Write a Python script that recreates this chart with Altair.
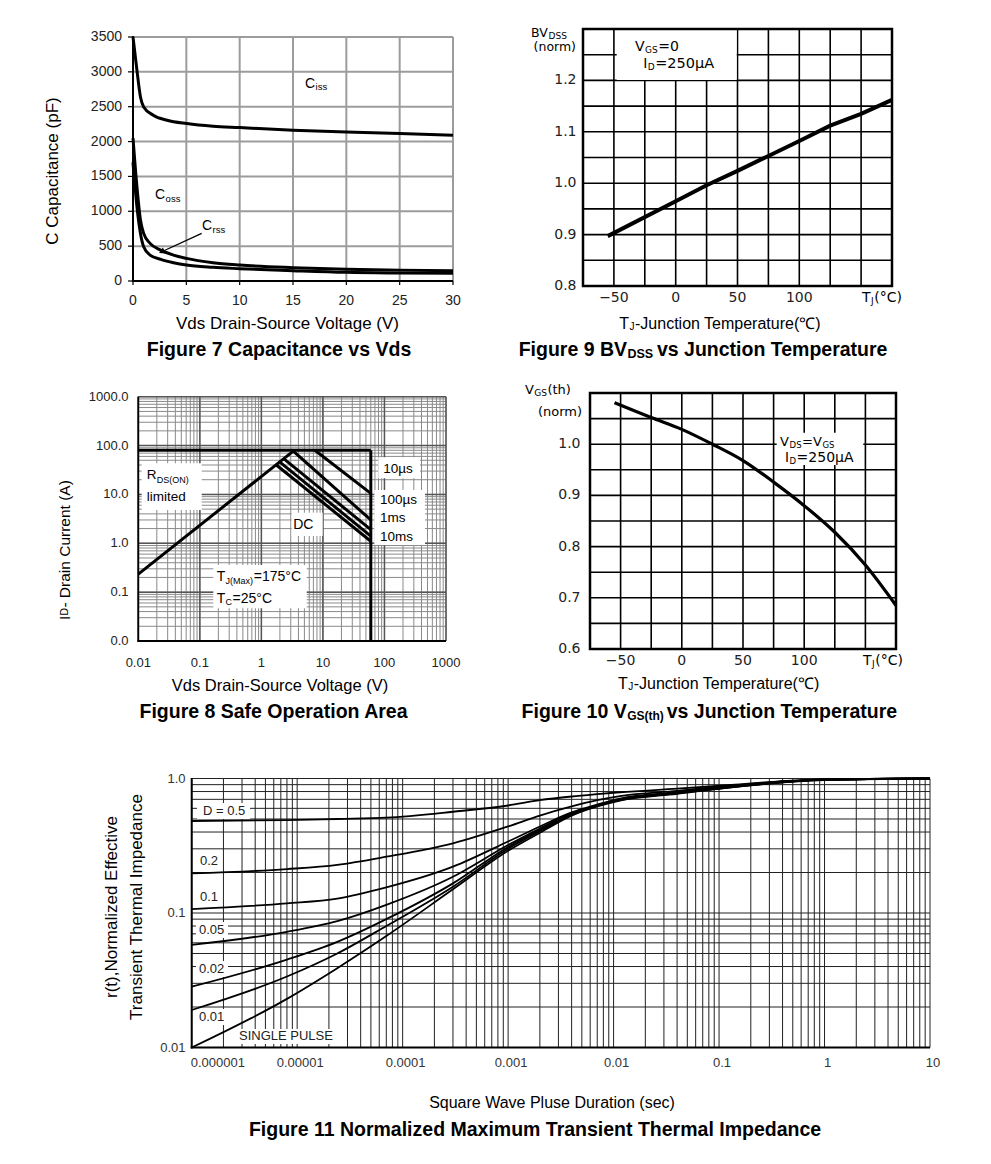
import altair as alt
import pandas as pd

# ====================== DATA ======================
# Figure 7 : Capacitance vs Vds
F7_VDS_ISS = [0, 0.37, 0.7, 1.0, 1.9, 3.2, 5.05, 7.5, 10, 15, 20, 25, 30]
F7_CISS = [3500, 3022, 2640, 2497, 2378, 2306, 2258, 2220, 2201, 2163, 2139, 2115, 2091]
F7_VDS = [0, 0.37, 0.7, 1.0, 1.6, 2.6, 3.8, 5, 7.5, 10, 15, 20, 25, 30]
F7_COSS = [2050, 1351, 874, 683, 540, 444, 372, 325, 263, 229, 191, 167, 156, 148]
F7_CRSS = [1700, 1065, 683, 492, 372, 310, 263, 229, 196, 177, 148, 124, 115, 110]
F7_ARROW_X = [6.44, 2.69]
F7_ARROW_Y = [684, 420]
F7_XTICKS = [0, 5, 10, 15, 20, 25, 30]
F7_YTICKS = [0, 500, 1000, 1500, 2000, 2500, 3000, 3500]

# Figure 9 : BVdss vs Tj
F9_T = [-55, 0, 25, 50, 75, 100, 125, 150, 175]
F9_BV = [0.897, 0.965, 0.996, 1.024, 1.053, 1.082, 1.112, 1.135, 1.162]
F9_GRID_X = [-50, -25, 0, 25, 50, 75, 100, 125, 150]
F9_GRID_Y = [0.85, 0.9, 0.95, 1.0, 1.05, 1.1, 1.15, 1.2, 1.25]
F9_XLAB = [-50, 0, 50, 100]
F9_XTXT = ["\u221250", "0", "50", "100"]
F9_YLAB = [0.8, 0.9, 1.0, 1.1, 1.2]
F9_YTXT = ["0.8", "0.9", "1.0", "1.1", "1.2"]

# Figure 8 : Safe operating area (start / end of each straight segment)
F8_SERIES = ["limit_I", "limit_V", "rds_on", "10us", "100us", "1ms", "10ms", "DC"]
F8_V0 = [0.01, 60, 0.01, 7.4, 3.3, 2.3, 2.0, 1.75]
F8_I0 = [80, 80, 0.233, 80, 77, 54, 46, 40]
F8_V1 = [60, 60, 3.3, 60, 60, 60, 60, 60]
F8_I1 = [80, 0.01, 77, 10.5, 3.0, 1.9, 1.4, 1.1]
F8_DEC = [0.01, 0.1, 1, 10, 100, 1000]
F8_XTXT = ["0.01", "0.1", "1", "10", "100", "1000"]
F8_YTXT = ["0.0", "0.1", "1.0", "10.0", "100.0", "1000.0"]

# Figure 10 : Vgs(th) vs Tj
F10_T = [-55, -25, 0, 25, 50, 75, 100, 125, 150, 175]
F10_V = [1.081, 1.052, 1.029, 1.0, 0.968, 0.926, 0.880, 0.828, 0.764, 0.685]
F10_GRID_Y = [0.65, 0.7, 0.75, 0.8, 0.85, 0.9, 0.95, 1.0, 1.05]
F10_YLAB = [0.6, 0.7, 0.8, 0.9, 1.0]
F10_YTXT = ["0.6", "0.7", "0.8", "0.9", "1.0"]

# Figure 11 : Normalized transient thermal impedance
F11_T = [1e-6, 8e-6, 2.4e-5, 7e-5, 3e-4, 1e-3, 2e-3, 4e-3, 7e-3, 1.15e-2, 0.04, 0.13, 0.44, 1.0, 10.0]
F11_D050 = [0.483, 0.49, 0.50, 0.511, 0.566, 0.63, 0.69, 0.735, 0.765, 0.79, 0.84, 0.895, 0.96, 0.985, 1.0]
F11_D020 = [0.197, 0.212, 0.228, 0.262, 0.33, 0.44, 0.53, 0.62, 0.69, 0.74, 0.81, 0.885, 0.955, 0.985, 1.0]
F11_D010 = [0.107, 0.118, 0.128, 0.155, 0.221, 0.34, 0.44, 0.56, 0.64, 0.71, 0.79, 0.875, 0.95, 0.98, 1.0]
F11_D005 = [0.058, 0.0725, 0.087, 0.115, 0.186, 0.32, 0.425, 0.55, 0.635, 0.70, 0.785, 0.87, 0.95, 0.98, 1.0]
F11_D002 = [0.0283, 0.045, 0.061, 0.090, 0.166, 0.31, 0.415, 0.54, 0.63, 0.695, 0.78, 0.865, 0.945, 0.98, 1.0]
F11_D001 = [0.019, 0.0337, 0.050, 0.080, 0.157, 0.30, 0.405, 0.535, 0.625, 0.69, 0.775, 0.86, 0.945, 0.98, 1.0]
F11_SGL = [0.010, 0.0230, 0.0389, 0.0674, 0.150, 0.29, 0.395, 0.53, 0.62, 0.685, 0.77, 0.86, 0.94, 0.975, 1.0]
F11_XDEC = [1e-6, 1e-5, 1e-4, 1e-3, 1e-2, 0.1, 1, 10]
F11_XTXT = ["0.000001", "0.00001", "0.0001", "0.001", "0.01", "0.1", "1", "10"]
F11_YDEC = [0.01, 0.1, 1]
F11_YTXT = ["0.01", "0.1", "1.0"]
F11_LABELS = ["D = 0.5", "0.2", "0.1", "0.05", "0.02", "0.01", "SINGLE PULSE"]

# ====================== HELPERS ======================
OFF = 8
W, H = 975, 1148
SANS = "Liberation Sans, Arial, Helvetica, sans-serif"
DVS = "DejaVu Sans, Verdana, sans-serif"
ONE = pd.DataFrame({"k": [0]})


def P(v):
    return v - OFF


def lin(dom, a, b):
    return alt.Scale(type="linear", domain=dom, range=[P(a), P(b)], nice=False, zero=False)


def lg(dom, a, b):
    return alt.Scale(type="log", domain=dom, range=[P(a), P(b)], nice=False)


def minor_log(e0, e1):
    vals = []
    for e in range(e0, e1):
        for k in range(1, 10):
            vals.append(float(f"{k}e{e}"))
    vals.append(float(f"1e{e1}"))
    return vals


def T(x, y, s, size, font=SANS, align="left", baseline="middle", weight="normal",
      angle=None, color="black"):
    kw = dict(text=s, fontSize=size, font=font, align=align, baseline=baseline,
              fontWeight=weight, color=color)
    if angle is not None:
        kw["angle"] = angle
    return alt.Chart(ONE).mark_text(**kw).encode(x=alt.value(P(x)), y=alt.value(P(y)))


def seg(x0, y0, x1, y1, color="black", w=2):
    return alt.Chart(ONE).mark_rule(color=color, strokeWidth=w).encode(
        x=alt.value(P(x0)), y=alt.value(P(y0)), x2=alt.value(P(x1)), y2=alt.value(P(y1)))


def box(x0, y0, x1, y1):
    return alt.Chart(ONE).mark_rect(color="white").encode(
        x=alt.value(P(x0)), x2=alt.value(P(x1)), y=alt.value(P(y0)), y2=alt.value(P(y1)))


def frame(x0, y0, x1, y1, w=2.5):
    return alt.Chart(ONE).mark_rect(filled=False, color="black", strokeWidth=w).encode(
        x=alt.value(P(x0)), x2=alt.value(P(x1)), y=alt.value(P(y0)), y2=alt.value(P(y1)))


def vrules(vals, xs, y0, y1, color, w):
    return alt.Chart(pd.DataFrame({"v": vals})).mark_rule(color=color, strokeWidth=w).encode(
        x=alt.X("v:Q", scale=xs, axis=None), y=alt.value(P(y0)), y2=alt.value(P(y1)))


def hrules(vals, ys, x0, x1, color, w):
    return alt.Chart(pd.DataFrame({"v": vals})).mark_rule(color=color, strokeWidth=w).encode(
        y=alt.Y("v:Q", scale=ys, axis=None), x=alt.value(P(x0)), x2=alt.value(P(x1)))


def curves(df, xs, ys, w, interp="monotone"):
    return alt.Chart(df).mark_line(color="black", strokeWidth=w, interpolate=interp).encode(
        x=alt.X("x:Q", scale=xs, axis=None), y=alt.Y("y:Q", scale=ys, axis=None),
        detail="s:N", order="o:Q")


def xlab(vals, texts, xs, y, size, font=SANS, color="#222", align="center", dx=0):
    return alt.Chart(pd.DataFrame({"v": vals, "t": texts})).mark_text(
        fontSize=size, font=font, color=color, align=align, baseline="middle", dx=dx).encode(
        x=alt.X("v:Q", scale=xs, axis=None), y=alt.value(P(y)), text="t:N")


def ylab(vals, texts, ys, x, size, font=SANS, color="#222"):
    return alt.Chart(pd.DataFrame({"v": vals, "t": texts})).mark_text(
        fontSize=size, font=font, color=color, align="right", baseline="middle").encode(
        y=alt.Y("v:Q", scale=ys, axis=None), x=alt.value(P(x)), text="t:N")


def series_df(pairs):
    rows = []
    for name, xs, ys in pairs:
        for i, (a, b) in enumerate(zip(xs, ys)):
            rows.append({"s": name, "o": i, "x": a, "y": b})
    return pd.DataFrame(rows)


layers = []

# ====================== FIGURE 7 ======================
x7 = lin([0, 30], 133, 453)
y7 = lin([0, 3500], 281, 37)
G7 = "#9c9c9c"
df7 = series_df([("Ciss", F7_VDS_ISS, F7_CISS), ("Coss", F7_VDS, F7_COSS), ("Crss", F7_VDS, F7_CRSS)])
arrow = pd.DataFrame({"x": [F7_ARROW_X[0]], "y": [F7_ARROW_Y[0]], "x2": [F7_ARROW_X[1]], "y2": [F7_ARROW_Y[1]]})
layers += [
    vrules(F7_XTICKS[1:], x7, 37, 281, G7, 2),
    hrules(F7_YTICKS[1:], y7, 133, 453, G7, 2),
    vrules(F7_XTICKS, x7, 281, 285, "black", 1.2),
    hrules(F7_YTICKS, y7, 128, 133, "black", 1.2),
    curves(df7, x7, y7, 3),
    seg(133, 36, 133, 282, "black", 2),
    seg(132, 281, 453, 281, "black", 2),
    alt.Chart(arrow).mark_rule(color="black", strokeWidth=1.3).encode(
        x=alt.X("x:Q", scale=x7, axis=None), y=alt.Y("y:Q", scale=y7, axis=None),
        x2="x2:Q", y2="y2:Q"),
    alt.Chart(arrow).mark_point(shape="triangle-up", filled=True, color="black", size=45,
                                angle=245, opacity=1).encode(
        x=alt.X("x2:Q", scale=x7, axis=None), y=alt.Y("y2:Q", scale=y7, axis=None)),
    xlab(F7_XTICKS, [str(v) for v in F7_XTICKS], x7, 301, 14),
    ylab(F7_YTICKS, [str(v) for v in F7_YTICKS], y7, 122, 14),
    T(305, 83.5, "C", 14), T(315.6, 87, "iss", 9.5),
    T(155, 195, "C", 14), T(165.6, 198.5, "oss", 9.5),
    T(202, 226, "C", 14), T(212.6, 229.5, "rss", 9.5),
    T(287.5, 323.5, "Vds Drain-Source Voltage (V)", 17, align="center"),
    T(52.5, 171, "C Capacitance (pF)", 17, align="center", angle=270),
    T(279, 355.5, "Figure 7 Capacitance vs Vds", 19.5, align="center",
      baseline="alphabetic", weight="bold"),
]

# ====================== FIGURE 9 ======================
x9 = lin([-75, 175], 583, 892)
y9 = lin([0.8, 1.3], 286, 29)
df9 = series_df([("BV", F9_T, F9_BV)])
layers += [
    vrules(F9_GRID_X, x9, 29, 286, "black", 1.6),
    hrules(F9_GRID_Y, y9, 583, 892, "black", 1.6),
    box(616.7, 30, 736.7, 80),
    curves(df9, x9, y9, 4, "linear"),
    frame(583, 29, 892, 286),
    xlab(F9_XLAB, F9_XTXT, x9, 298, 14, font=DVS),
    ylab(F9_YLAB, F9_YTXT, y9, 576.5, 14, font=DVS),
    T(862, 298, "T", 14, font=DVS), T(870.9, 300.5, "J", 9, font=DVS), T(874.3, 298, "(\u00b0C)", 14, font=DVS),
    T(531, 33, "BV", 12.5, font=DVS), T(548.6, 35.5, "DSS", 9, font=DVS),
    T(576, 47, "(norm)", 12.5, font=DVS, align="right"),
    T(635, 47, "V", 14, font=DVS), T(645, 50, "GS", 9, font=DVS), T(658.2, 47, "=0", 14, font=DVS),
    T(643.3, 64, "I", 14, font=DVS), T(647.8, 67, "D", 9, font=DVS), T(655.2, 64, "=250\u03bcA", 14.5, font=DVS),
    T(619.3, 324, "T", 16), T(629.6, 327, "J", 10), T(635, 324, "-Junction Temperature(\u2103)", 16),
    T(627, 355.5, "Figure 9 BV", 19.5, align="right", baseline="alphabetic", weight="bold"),
    T(627.5, 357.5, "DSS", 12.5, baseline="alphabetic", weight="bold"),
    T(657, 355.5, "vs Junction Temperature", 19.5, baseline="alphabetic", weight="bold"),
]

# ====================== FIGURE 8 ======================
x8 = lg([0.01, 1000], 138.3, 446)
y8 = lg([0.01, 1000], 641, 396.7)
grid8 = minor_log(-2, 3)
dec8 = F8_DEC
df8 = series_df([(n, [a, b], [c, d]) for n, a, c, b, d in zip(F8_SERIES, F8_V0, F8_I0, F8_V1, F8_I1)])
layers += [
    vrules(grid8, x8, 396.7, 641, "#8a8a8a", 1),
    hrules(grid8, y8, 138.3, 446, "#8a8a8a", 1),
    vrules(dec8, x8, 396.7, 641, "#555555", 1.5),
    hrules(dec8, y8, 138.3, 446, "#555555", 1.5),
    box(141.7, 463.3, 201.7, 510),
    box(378.3, 457.3, 420, 478.3),
    box(374.3, 490, 425, 545),
    box(291.7, 512.7, 322.7, 536),
    box(213.3, 565, 306.7, 608.3),
    curves(df8, x8, y8, 3, "linear"),
    seg(138.3, 396.7, 138.3, 642, "black", 1.8),
    seg(137.5, 641, 446, 641, "black", 1.8),
    xlab(dec8, F8_XTXT, x8, 663, 13),
    ylab(dec8, F8_YTXT, y8, 128.5, 13),
    T(146.7, 475, "R", 13.5), T(156.8, 480, "DS(ON)", 9),
    T(146.7, 496.7, "limited", 13.5),
    T(383.3, 469.3, "10\u00b5s", 13.5),
    T(380, 500, "100\u00b5s", 13.5),
    T(380, 518.3, "1ms", 13.5),
    T(380, 537.3, "10ms", 13.5),
    T(303.3, 524.5, "DC", 14, align="center"),
    T(216.7, 577.3, "T", 14), T(225.6, 580.5, "J(Max)", 9), T(253.8, 577.3, "=175\u00b0C", 14),
    T(216.7, 599, "T", 14), T(225.6, 602, "C", 9), T(232.6, 599, "=25\u00b0C", 14),
    T(280, 686, "Vds Drain-Source Voltage (V)", 16.5, align="center"),
    T(65, 620, "I", 15.5, angle=270), T(65, 615.5, "D", 10.5, angle=270),
    T(65, 607.6, "- Drain Current (A)", 15.5, angle=270),
    T(273.5, 718, "Figure 8 Safe Operation Area", 19.5, align="center",
      baseline="alphabetic", weight="bold"),
]

# ====================== FIGURE 10 ======================
x10 = lin([-75, 175], 590, 896)
y10 = lin([0.6, 1.1], 649, 393)
df10 = series_df([("Vth", F10_T, F10_V)])
layers += [
    vrules(F9_GRID_X, x10, 393, 649, "black", 1.6),
    hrules(F10_GRID_Y, y10, 590, 896, "black", 1.6),
    box(776.7, 432.7, 863.3, 465),
    curves(df10, x10, y10, 3.2),
    frame(590, 393, 896, 649),
    xlab(F9_XLAB, F9_XTXT, x10, 661, 14, font=DVS),
    ylab(F10_YLAB, F10_YTXT, y10, 580.5, 14, font=DVS),
    T(863, 661, "T", 14, font=DVS), T(871.9, 663.5, "J", 9, font=DVS), T(875.3, 661, "(\u00b0C)", 14, font=DVS),
    T(525, 390, "V", 13, font=DVS), T(534.3, 393, "GS", 9, font=DVS), T(547.4, 390, "(th)", 13, font=DVS),
    T(582, 412, "(norm)", 13, font=DVS, align="right"),
    T(780, 442, "V", 13, font=DVS), T(789.6, 445, "DS", 8.5, font=DVS),
    T(802, 442, "=V", 13, font=DVS), T(822.5, 445, "GS", 8.5, font=DVS),
    T(785, 457.5, "I", 13.5, font=DVS), T(789.5, 460.5, "D", 8.5, font=DVS), T(796.6, 457.5, "=250\u03bcA", 14, font=DVS),
    T(618, 683.5, "T", 16), T(628.3, 686.5, "J", 10), T(633.7, 683.5, "-Junction Temperature(\u2103)", 16),
    T(626.7, 718, "Figure 10 V", 19.5, align="right", baseline="alphabetic", weight="bold"),
    T(627.2, 720.3, "GS(th)", 12, baseline="alphabetic", weight="bold"),
    T(666.7, 718, "vs Junction Temperature", 19.5, baseline="alphabetic", weight="bold"),
]

# ====================== FIGURE 11 ======================
x11 = lg([1e-6, 10], 191.7, 930)
y11 = lg([0.01, 1], 1047.5, 778.5)
gx11 = minor_log(-6, 1)
gy11 = minor_log(-2, 0)
df11 = series_df([("0.5", F11_T, F11_D050), ("0.2", F11_T, F11_D020), ("0.1", F11_T, F11_D010),
                  ("0.05", F11_T, F11_D005), ("0.02", F11_T, F11_D002), ("0.01", F11_T, F11_D001),
                  ("single", F11_T, F11_SGL)])
lab_pos = [(203, 811, (197, 803, 250, 819)), (200, 861, (196, 853, 221, 869)),
           (200, 897, (196, 889, 221, 905)), (199, 930, (196, 922, 228, 938)),
           (199, 969, (196, 961, 228, 977)), (199, 1017, (196, 1009, 228, 1025)),
           (239, 1036, (235, 1029, 336, 1044))]
layers += [
    vrules(gx11, x11, 778.5, 1047.5, "#222222", 1),
    hrules(gy11, y11, 191.7, 930, "#222222", 1),
]
layers += [box(*b) for (_, _, b) in lab_pos]
layers += [
    curves(df11, x11, y11, 1.8),
    seg(191.7, 778, 191.7, 1048.5, "black", 2),
    seg(190.7, 1047.5, 930, 1047.5, "black", 2),
    xlab(F11_XDEC[:1], F11_XTXT[:1], x11, 1063, 13, color="#333", align="left", dx=-1),
    xlab(F11_XDEC[1:], F11_XTXT[1:], x11, 1063, 13, color="#333", dx=3),
    ylab(F11_YDEC, F11_YTXT, y11, 185.5, 13, color="#333"),
]
layers += [T(x, y, s, 13, color="#222") for s, (x, y, _) in zip(F11_LABELS, lab_pos)]
layers += [
    T(111.7, 907, "r(t),Normalized Effective", 17, align="center", angle=270),
    T(136.7, 907, "Transient Thermal Impedance", 17, align="center", angle=270),
    T(552, 1103, "Square Wave Pluse Duration (sec)", 16, align="center"),
    T(535, 1136, "Figure 11 Normalized Maximum Transient Thermal Impedance", 19.5,
      align="center", baseline="alphabetic", weight="bold"),
]

chart = alt.layer(*layers).resolve_scale(x="independent", y="independent").properties(
    width=W, height=H, autosize=alt.AutoSizeParams(type="none"), padding=0,
    background="white"
).configure_view(stroke=None)

chart.save("out.html", embed_options={"renderer": "svg", "actions": False})
